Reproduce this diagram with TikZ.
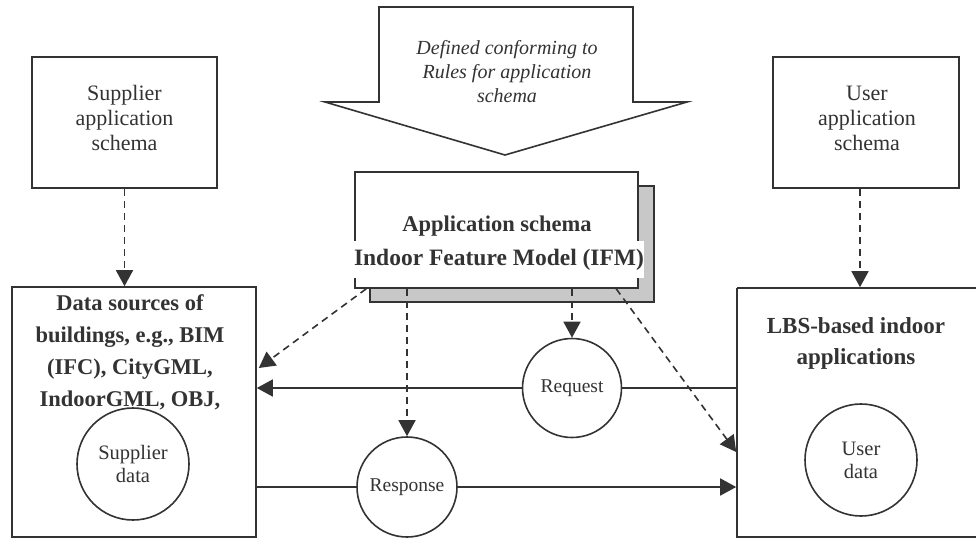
\documentclass[tikz,border=0pt]{standalone}
\usepackage{fontspec}
\setmainfont{Liberation Serif}
\usetikzlibrary{arrows.meta,calc}
\definecolor{ink}{HTML}{333333}
\definecolor{shade}{HTML}{C8C8C8}
\begin{document}
\begin{tikzpicture}[x=1pt,y=-1pt,
  line width=1.6pt,
  every node/.style={text=ink},
  box/.style={draw=ink,fill=white,inner sep=0pt},
  circ/.style={draw=ink,fill=white,circle,inner sep=0pt,align=center,font=\fontsize{19.5}{22}\selectfont},
  dsh/.style={draw=ink,dash pattern=on 7pt off 5pt,-{Triangle[width=17pt,length=16pt]}},
  sol/.style={draw=ink,-{Triangle[width=17pt,length=16pt]}},
  plain/.style={draw=ink}
]
\useasboundingbox (0,0) rectangle (976,538);
\fill[white] (0,0) rectangle (976,538);

% big arrow
\draw[ink,fill=white,line join=miter] (379,7) -- (633,7) -- (633,102) -- (687,102) -- (505,155) -- (325,102) -- (379,102) -- cycle;
\node[align=center,font=\itshape\fontsize{20}{24}\selectfont] (rules) at (507,72) {Defined conforming to\\Rules for application\\schema};

% top boxes
\node[box,minimum width=185pt,minimum height=131pt] (sup) at (124.5,122.5) {};
\node[align=center,font=\fontsize{22}{25}\selectfont] (suptxt) at (124.5,118) {Supplier\\application\\schema};
\node[box,minimum width=186pt,minimum height=131pt] (usr) at (866,122.5) {};
\node[align=center,font=\fontsize{22}{25}\selectfont] (usrtxt) at (867,118) {User\\application\\schema};

% application schema with shadow
\node[draw=ink,fill=shade,inner sep=0pt,minimum width=284pt,minimum height=116pt] (shadow) at (512,244) {};
\node[box,minimum width=283pt,minimum height=116pt] (app) at (496.5,230) {};
\node[font=\bfseries\fontsize{22.5}{26}\selectfont] (apptxt) at (497,226) {Application schema};
\node[fill=white,inner sep=0pt,minimum width=290pt,minimum height=37pt,font=\bfseries\fontsize{23.5}{27}\selectfont] (ifm) at (499,259.5) {Indoor Feature Model (IFM)};

% lower boxes
\node[box,minimum width=244pt,minimum height=250pt] (data) at (134,412) {};
\node[align=center,font=\bfseries\fontsize{22.5}{32}\selectfont] (datatxt) at (130,352) {Data sources of\\buildings, e.g., BIM\\(IFC), CityGML,\\IndoorGML, OBJ,};
\draw[draw=ink] (737,288) -- (990,288) (737,288) -- (737,537) -- (990,537);
\node[inner sep=0pt,minimum width=253pt,minimum height=249pt] (lbs) at (863.5,412.5) {};
\node[align=center,font=\bfseries\fontsize{23}{31}\selectfont] (lbstxt) at (856,343) {LBS-based indoor\\applications};

% circles
\node[circ,minimum size=112pt,font=\fontsize{20.5}{23}\selectfont] (supd) at (133,464) {Supplier\\data};
\node[circ,minimum size=112pt,font=\fontsize{20.5}{23}\selectfont] (usrd) at (861,460) {User\\data};
\node[circ,minimum size=99pt] (req) at (572,388) {Request};
\node[circ,minimum size=100pt] (resp) at (407,487) {Response};

% dashed connectors
\draw[dsh] (sup.south) -- (sup.south |- data.north);
\draw[dsh] (usr.south -| lbstxt) ++(4,0) coordinate (u1) -- (u1 |- lbs.north);
\coordinate (a1) at ($(app.south west)+(12,0)$);
\coordinate (a2) at ($(app.south west)+(262,0)$);
\draw[dsh] (a1) -- ($(data.east |- 0,368)+(2,0)$) coordinate (d1);
\draw[dsh] (req.north |- app.south) -- (req.north);
\draw[dsh] (resp.north |- app.south) -- (resp.north);
\draw[dsh] (a2) -- (lbs.west |- 0,452);

% solid flow lines
\draw[plain] (lbs.west |- req.east) -- (req.east);
\draw[sol] (req.west) -- (data.east |- req.west);
\draw[plain] (data.east |- resp.west) -- (resp.west);
\draw[sol] (resp.east) -- (lbs.west |- resp.east);
\end{tikzpicture}
\end{document}
